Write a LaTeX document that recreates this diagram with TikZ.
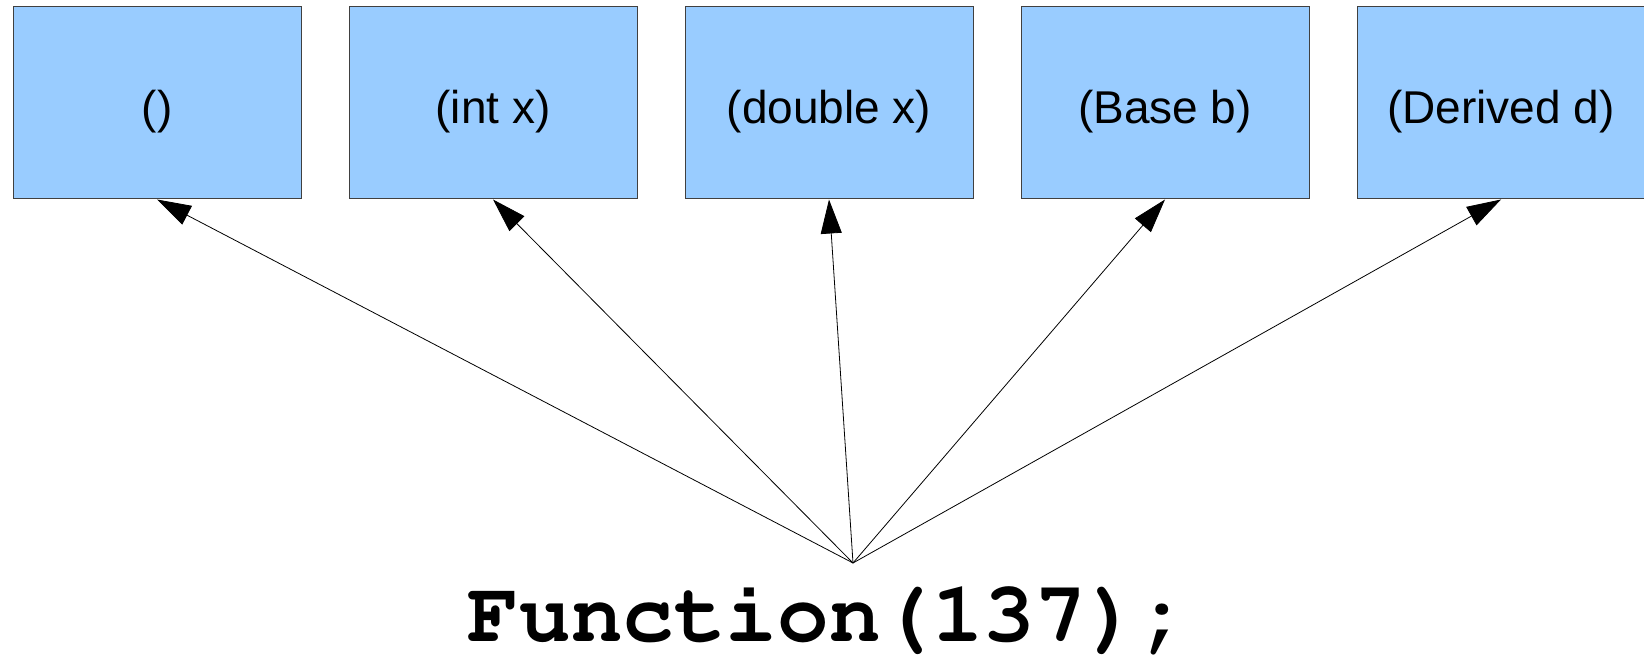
\documentclass[tikz,border=0pt]{standalone}
\usepackage[T1]{fontenc}
\usepackage{fontspec}
\setmainfont{Liberation Sans}
\usetikzlibrary{arrows.meta}
\newcommand{\codefont}{\fontencoding{T1}\fontfamily{pcr}\fontseries{b}\selectfont}

\begin{document}
\begin{tikzpicture}[x=1pt,y=1pt,
		overload/.style={draw=black!75,line width=0.5pt,fill=boxblue,minimum width=144pt,minimum height=96pt,inner sep=0pt,text height=24pt,text depth=3.6pt,font=\fontsize{23}{26}\selectfont},
		call/.style={line width=0.4pt,-{Triangle[length=17pt,width=10.5pt]}}]
			\definecolor{boxblue}{HTML}{99CCFF}
			\useasboundingbox (0,0) rectangle (822,328.5);
			% overloads
			\node[overload] (empty) at (78.5,277) {()};
			\node[overload] (intx) at (246.5,277) {(int x)};
			\node[overload] (doublex) at (414.5,277) {(double x)};
			\node[overload] (baseb) at (582.5,277) {(Base b)};
			\node[overload] (derivedd) at (750.5,277) {(Derived d)};
			% call
			\coordinate (apex) at (426.5,47);
			\node[anchor=base,inner sep=0pt,font=\codefont\fontsize{43}{47}\selectfont] (callsite) at (414.5,7.5) {Function(137);};
			% arrows
			\draw[call] (apex) -- (empty.south);
			\draw[call] (apex) -- (intx.south);
			\draw[call] (apex) -- (doublex.south);
			\draw[call] (apex) -- (baseb.south);
			\draw[call] (apex) -- (derivedd.south);
\end{tikzpicture}
\end{document}
